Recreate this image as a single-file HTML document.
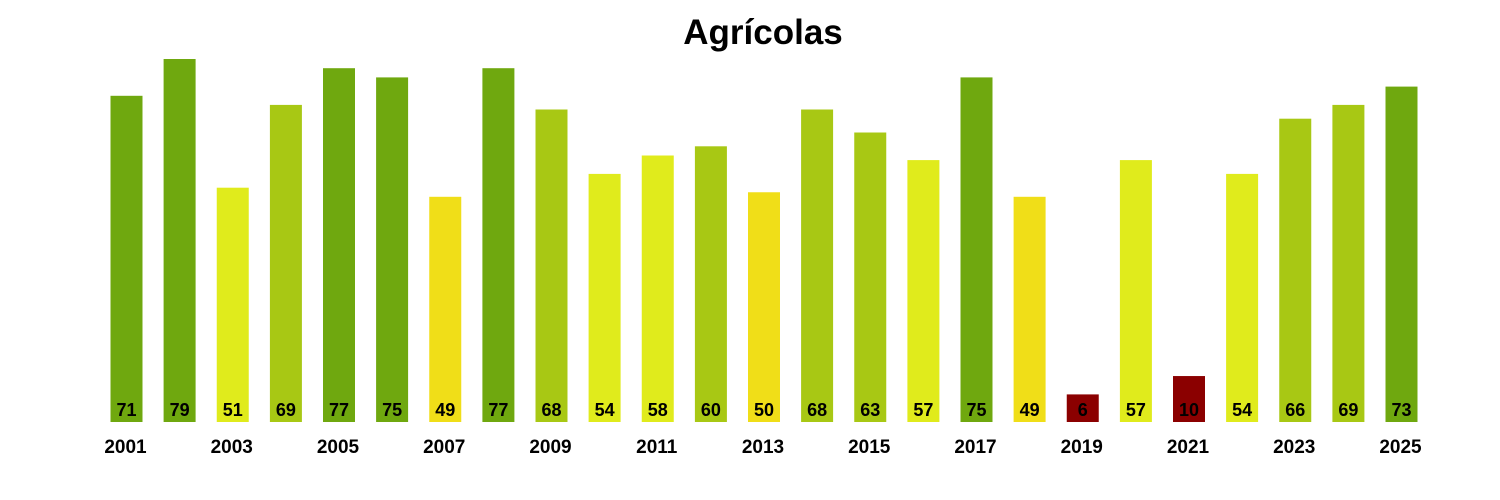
<!DOCTYPE html>
<html><head><meta charset="utf-8"><style>
html,body{margin:0;padding:0;background:#fff;}
svg{display:block;font-family:"Liberation Sans",Arial,sans-serif;}
.v{font-size:18px;font-weight:bold;text-anchor:middle;fill:#000;}
.y{font-size:19px;font-weight:bold;text-anchor:middle;fill:#000;}
</style></head><body>
<svg width="1500" height="500" viewBox="0 0 1500 500">
<text x="763" y="44" font-size="35" font-weight="bold" text-anchor="middle">Agrícolas</text>
<g>
<rect x="110.5" y="95.8" width="32" height="326.2" fill="#6fa80f"/>
<rect x="163.6" y="59" width="32" height="363" fill="#6fa80f"/>
<rect x="216.75" y="187.7" width="32" height="234.3" fill="#e0eb1c"/>
<rect x="269.9" y="104.9" width="32" height="317.1" fill="#a8c814"/>
<rect x="323" y="68.2" width="32" height="353.8" fill="#6fa80f"/>
<rect x="376.1" y="77.4" width="32" height="344.6" fill="#6fa80f"/>
<rect x="429.25" y="196.8" width="32" height="225.2" fill="#f0de18"/>
<rect x="482.4" y="68.2" width="32" height="353.8" fill="#6fa80f"/>
<rect x="535.5" y="109.5" width="32" height="312.5" fill="#a8c814"/>
<rect x="588.6" y="173.9" width="32" height="248.1" fill="#e0eb1c"/>
<rect x="641.75" y="155.5" width="32" height="266.5" fill="#e0eb1c"/>
<rect x="694.9" y="146.3" width="32" height="275.7" fill="#a8c814"/>
<rect x="748" y="192.25" width="32" height="229.75" fill="#f0de18"/>
<rect x="801.1" y="109.5" width="32" height="312.5" fill="#a8c814"/>
<rect x="854.25" y="132.5" width="32" height="289.5" fill="#a8c814"/>
<rect x="907.4" y="160.1" width="32" height="261.9" fill="#e0eb1c"/>
<rect x="960.5" y="77.4" width="32" height="344.6" fill="#6fa80f"/>
<rect x="1013.6" y="196.8" width="32" height="225.2" fill="#f0de18"/>
<rect x="1066.75" y="394.4" width="32" height="27.6" fill="#8b0000"/>
<rect x="1119.9" y="160.1" width="32" height="261.9" fill="#e0eb1c"/>
<rect x="1173" y="376.05" width="32" height="45.95" fill="#8b0000"/>
<rect x="1226.1" y="173.9" width="32" height="248.1" fill="#e0eb1c"/>
<rect x="1279.25" y="118.7" width="32" height="303.3" fill="#a8c814"/>
<rect x="1332.4" y="104.9" width="32" height="317.1" fill="#a8c814"/>
<rect x="1385.5" y="86.6" width="32" height="335.4" fill="#6fa80f"/>
</g>
<g>
<text class="v" x="126.5" y="416">71</text>
<text class="v" x="179.6" y="416">79</text>
<text class="v" x="232.75" y="416">51</text>
<text class="v" x="285.9" y="416">69</text>
<text class="v" x="339" y="416">77</text>
<text class="v" x="392.1" y="416">75</text>
<text class="v" x="445.25" y="416">49</text>
<text class="v" x="498.4" y="416">77</text>
<text class="v" x="551.5" y="416">68</text>
<text class="v" x="604.6" y="416">54</text>
<text class="v" x="657.75" y="416">58</text>
<text class="v" x="710.9" y="416">60</text>
<text class="v" x="764" y="416">50</text>
<text class="v" x="817.1" y="416">68</text>
<text class="v" x="870.25" y="416">63</text>
<text class="v" x="923.4" y="416">57</text>
<text class="v" x="976.5" y="416">75</text>
<text class="v" x="1029.6" y="416">49</text>
<text class="v" x="1082.75" y="416">6</text>
<text class="v" x="1135.9" y="416">57</text>
<text class="v" x="1189" y="416">10</text>
<text class="v" x="1242.1" y="416">54</text>
<text class="v" x="1295.25" y="416">66</text>
<text class="v" x="1348.4" y="416">69</text>
<text class="v" x="1401.5" y="416">73</text>
</g>
<g>
<text class="y" x="125.5" y="453">2001</text>
<text class="y" x="231.75" y="453">2003</text>
<text class="y" x="338" y="453">2005</text>
<text class="y" x="444.25" y="453">2007</text>
<text class="y" x="550.5" y="453">2009</text>
<text class="y" x="656.75" y="453">2011</text>
<text class="y" x="763" y="453">2013</text>
<text class="y" x="869.25" y="453">2015</text>
<text class="y" x="975.5" y="453">2017</text>
<text class="y" x="1081.75" y="453">2019</text>
<text class="y" x="1188" y="453">2021</text>
<text class="y" x="1294.25" y="453">2023</text>
<text class="y" x="1400.5" y="453">2025</text>
</g>
</svg>
</body></html>
